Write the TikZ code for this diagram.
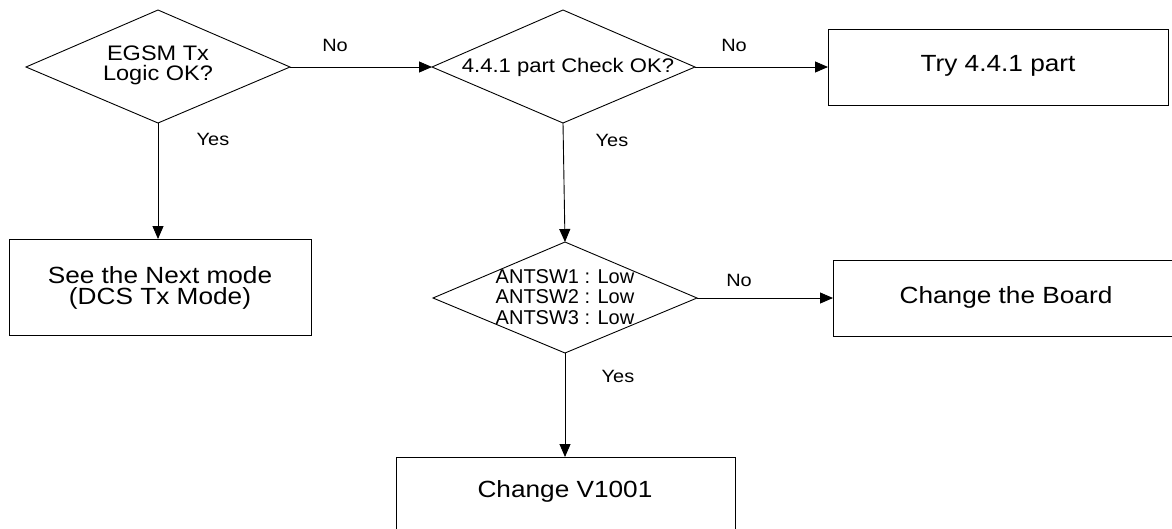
\documentclass[tikz,border=0pt]{standalone}
\usepackage{fontspec}
\setmainfont{Liberation Sans}
\newfontfamily\wideA[FakeStretch=1.12]{Liberation Sans}
\usetikzlibrary{arrows.meta,shapes.geometric}
\begin{document}
\begin{tikzpicture}[x=1pt,y=-1pt,
  line width=0.9pt,
  arr/.style={-{Triangle[length=13pt,width=11pt]}},
  boxtext/.style={font=\wideA\fontsize{23.4}{21.5}\selectfont,align=center},
  dtext/.style={font=\wideA\fontsize{21}{20}\selectfont,align=center},
  lbl/.style={font=\wideA\fontsize{17.8}{20}\selectfont}]
\useasboundingbox (0,0) rectangle (1172,528);
\clip (0,0) rectangle (1172,528);
% diamonds
\coordinate (d1l) at (26,67); \coordinate (d1t) at (158,10);
\coordinate (d1r) at (290,67); \coordinate (d1b) at (158,123);
\draw (d1l) -- (d1t) -- (d1r) -- (d1b) -- cycle;
\node[dtext] (d1) at (158,65) {EGSM Tx\\Logic OK?};

\coordinate (d2l) at (432,67); \coordinate (d2t) at (563,10);
\coordinate (d2r) at (695,67); \coordinate (d2b) at (563,123);
\draw (d2l) -- (d2t) -- (d2r) -- (d2b) -- cycle;
\node[dtext,font=\wideA\fontsize{19.7}{20}\selectfont] (d2) at (568,67) {4.4.1 part Check OK?};

\coordinate (d3l) at (433,298); \coordinate (d3t) at (565,242);
\coordinate (d3r) at (697,298); \coordinate (d3b) at (565,353);
\draw (d3l) -- (d3t) -- (d3r) -- (d3b) -- cycle;
\node[font=\fontsize{20}{20.7}\selectfont,align=center] (d3) at (565,297) {ANTSW1 : Low\\ANTSW2 : Low\\ANTSW3 : Low};

% boxes
\draw (9,239) rectangle (311,335);
\node[boxtext] (b1) at (160,288) {See the Next mode\\(DCS Tx Mode)};
\coordinate (b1t) at (158,239);

\draw (828,29) rectangle (1168,105);
\node[boxtext] (b2) at (998,66) {Try 4.4.1 part};
\coordinate (b2l) at (828,67);

\draw (833,260) rectangle (1190,336);
\node[boxtext] (b3) at (1006,297) {Change the Board};
\coordinate (b3l) at (833,298);

\draw (396,457) rectangle (735,545);
\node[boxtext] (b4) at (565,491) {Change V1001};
\coordinate (b4t) at (565,457);

% connectors
\draw[arr] (d1r) -- (d2l);
\draw[arr] (d1b) -- (b1t);
\draw[arr] (d2r) -- (b2l);
\draw[arr] (d2b) -- (d3t);
\draw[arr] (d3r) -- (b3l);
\draw[arr] (d3b) -- (b4t);

% labels
\node[lbl] (n1) at (335,45) {No};
\node[lbl] (y1) at (213,139) {Yes};
\node[lbl] (n2) at (734,45) {No};
\node[lbl] (y2) at (612,140) {Yes};
\node[lbl] (n3) at (739,280) {No};
\node[lbl] (y3) at (618,376) {Yes};
\end{tikzpicture}
\end{document}
